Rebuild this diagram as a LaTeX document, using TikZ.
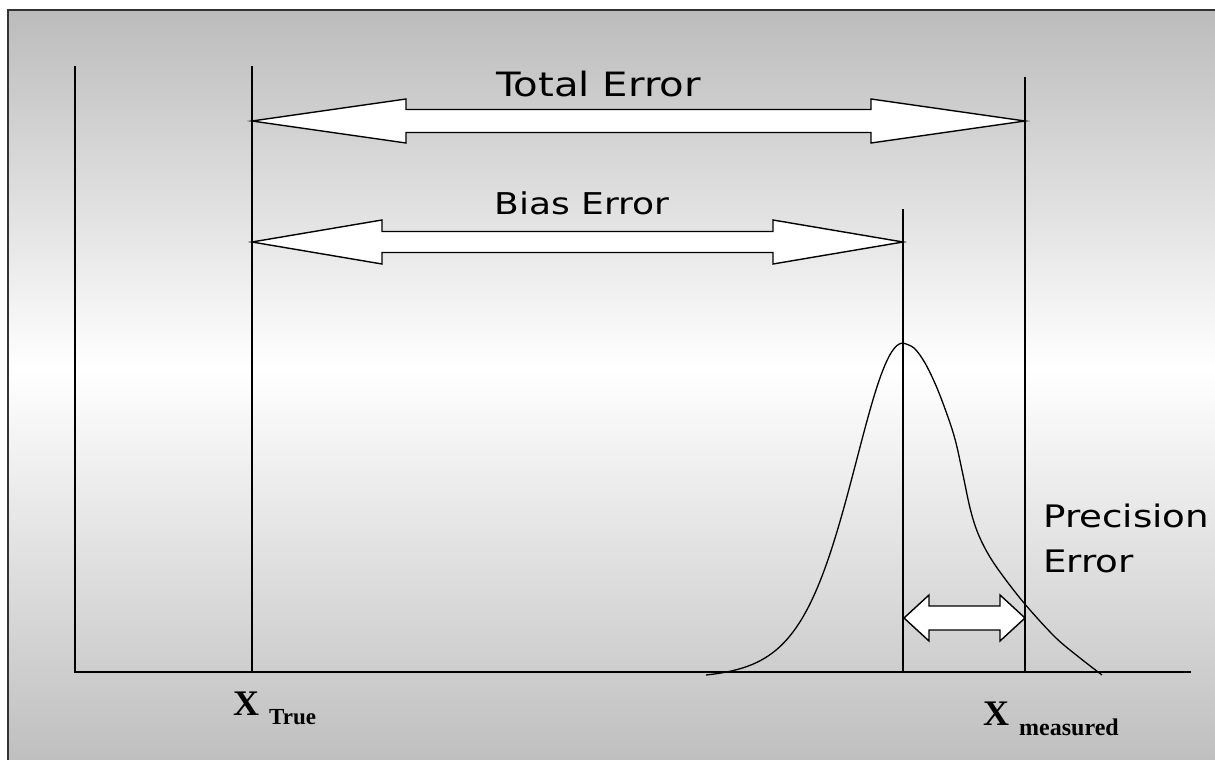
\documentclass[tikz,border=0pt]{standalone}
\usepackage{fontspec}
\usepackage{graphicx}
\setmainfont{Liberation Serif}
\newfontfamily\labelsans{DejaVu Sans}
\definecolor{bgtop}{gray}{0.735}
\definecolor{bgbot}{gray}{0.745}
\definecolor{framecol}{HTML}{333333}
\tikzset{
  guide/.style={line width=1.5pt, draw=black},
  axisline/.style={line width=2pt, draw=black},
  curveline/.style={line width=1.3pt, draw=black, line join=round},
  arrowshape/.style={draw=black, fill=white, line width=1.4pt, line join=miter},
  errlabel/.style={inner sep=0pt, anchor=base},
  sidelabel/.style={inner sep=0pt, anchor=base west},
  xlabel/.style={inner sep=0pt, anchor=base west},
}
% #1 left x, #2 right x, #3 y, #4 shaft half width, #5 head half width, #6 head length
\newcommand{\dblarr}[6]{%
  \draw[arrowshape] (#1,#3) -- (#1+#6,#3-#5) -- (#1+#6,#3-#4) -- (#2-#6,#3-#4)
    -- (#2-#6,#3-#5) -- (#2,#3) -- (#2-#6,#3+#5) -- (#2-#6,#3+#4)
    -- (#1+#6,#3+#4) -- (#1+#6,#3+#5) -- cycle;}
\newcommand{\errtext}[2]{{\labelsans\fontsize{#1}{#1}\selectfont\scalebox{1.2}[1]{#2}}}
\begin{document}
\begin{tikzpicture}[x=1pt,y=-1pt]
\useasboundingbox (0,0) rectangle (1215,760);
% background
\shade[top color=bgtop, bottom color=white] (8,10) rectangle (1222,370);
\shade[top color=white, bottom color=bgbot] (8,369.5) rectangle (1222,767);
\draw[framecol, line width=2pt] (8,10) rectangle (1222,767);

% named points
\coordinate (lefttop) at (75,66);
\coordinate (origin) at (75,672);
\coordinate (axisend) at (1191,672);
\coordinate (truetop) at (252,66);
\coordinate (truebot) at (252,672);
\coordinate (biastop) at (903,209);
\coordinate (biasbot) at (903,672);
\coordinate (meastop) at (1025,77);
\coordinate (measbot) at (1025,672);

% axes and guide lines
\draw[axisline] (lefttop) -- (origin) -- (axisend);
\draw[guide] (truetop) -- (truebot);
\draw[guide] (biastop) -- (biasbot);
\draw[guide] (meastop) -- (measbot);

% distribution
\draw[curveline]
  plot[domain=-197:0, samples=100] ({903+\x},{675-332*(1/(1+(\x/138)^2)^4-0.01174)/(1-0.01174)})
  -- plot[smooth, tension=0.55] coordinates {
    (903,343) (914,348) (925,363) (937,388) (949,420) (956,443) (963,475)
    (970,508) (977,531) (987,552) (1000,572) (1024,603) (1055,637)
    (1080,658) (1102,675)};

% block arrows
\dblarr{252}{1025}{121}{11.5}{22}{154}
\dblarr{252}{903}{242}{10.5}{22}{130}
\dblarr{904}{1025}{618}{12}{23}{25}

% labels
\node[errlabel] (total) at (598.5,96) {\errtext{33.5}{Total Error}};
\node[errlabel] (bias) at (582,214.5) {\errtext{30}{Bias Error}};
\node[sidelabel] (prec1) at (1043,527) {\errtext{31}{Precision}};
\node[sidelabel] (prec2) at (1043,572) {\errtext{31}{Error}};

\node[xlabel] (xtrue) at (233,715) {\bfseries\fontsize{36}{40}\selectfont X\hspace{10pt}\raisebox{-9pt}{\fontsize{23}{26}\selectfont True}};
\node[xlabel] (xmeas) at (983,725) {\bfseries\fontsize{36}{40}\selectfont X\hspace{10pt}\raisebox{-10pt}{\fontsize{24}{26}\selectfont measured}};
\end{tikzpicture}
\end{document}
